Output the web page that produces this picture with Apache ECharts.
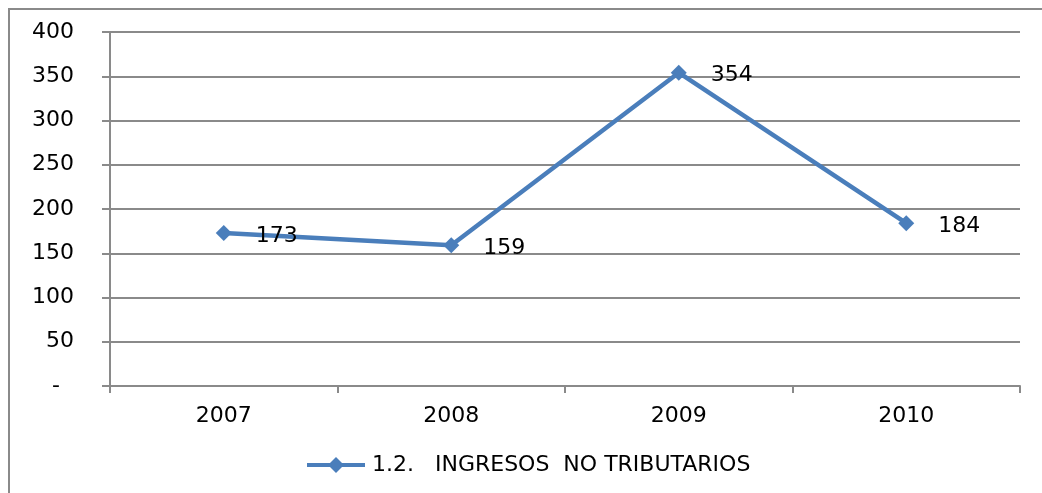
<!DOCTYPE html>
<html>
<head>
<meta charset="utf-8">
<script src="https://cdn.jsdelivr.net/npm/echarts@6/dist/echarts.min.js"></script>
<style>html,body{margin:0;padding:0;background:#fff}#c{width:1042px;height:493px}</style>
</head>
<body>
<div id="c"></div>
<script>
const categories = ['2007', '2008', '2009', '2010'];
const values = [173, 159, 354, 184];
const seriesName = '1.2.   INGRESOS  NO TRIBUTARIOS';
const yTicks = [0, 50, 100, 150, 200, 250, 300, 350, 400];

const FONT = 'DejaVu Sans';
const FS = 22;
const chart = echarts.init(document.getElementById('c'), null, {renderer: 'canvas'});
chart.setOption({
  animation: false,
  backgroundColor: '#fff',
  graphic: [{
    type: 'rect', shape: {x: 9, y: 9, width: 1050, height: 500},
    style: {fill: 'none', stroke: '#8a8a8a', lineWidth: 2}, silent: true
  }],
  grid: {left: 110, right: 22, top: 32, bottom: 107, containLabel: false},
  xAxis: {
    type: 'category', data: categories, boundaryGap: true,
    axisLine: {lineStyle: {color: '#8a8a8a', width: 2}},
    axisTick: {show: true, length: 7, lineStyle: {color: '#8a8a8a', width: 2}},
    axisLabel: {color: '#000', fontFamily: FONT, fontSize: FS, margin: 19}
  },
  yAxis: {
    type: 'value', min: yTicks[0], max: yTicks[yTicks.length - 1], interval: 50,
    axisLine: {show: true, lineStyle: {color: '#8a8a8a', width: 2}},
    axisTick: {show: true, length: 8, lineStyle: {color: '#8a8a8a', width: 2}},
    splitLine: {show: true, lineStyle: {color: '#8a8a8a', width: 2}},
    axisLabel: {
      color: '#000', fontFamily: FONT, fontSize: FS, margin: 36,
      formatter: v => v === 0 ? '-  ' : String(v)
    }
  },
  legend: {
    show: true, left: 302, top: 449, itemWidth: 58, itemHeight: 16, itemGap: 10,
    icon: 'path://M0,6 L58,6 L58,10 L0,10 Z M29,0 L37,8 L29,16 L21,8 Z',
    itemStyle: {color: '#4a7ebb'},
    textStyle: {color: '#000', fontFamily: FONT, fontSize: FS, padding: [0, 0, 0, 2]},
    data: [seriesName]
  },
  series: [{
    name: seriesName, type: 'line', data: values,
    symbol: 'diamond', symbolSize: 16,
    lineStyle: {color: '#4a7ebb', width: 4.5},
    itemStyle: {color: '#4a7ebb'},
    label: {
      show: true, position: 'right', distance: 24,
      color: '#000', fontFamily: FONT, fontSize: FS, offset: [0, 3]
    }
  }]
});
</script>
</body>
</html>
